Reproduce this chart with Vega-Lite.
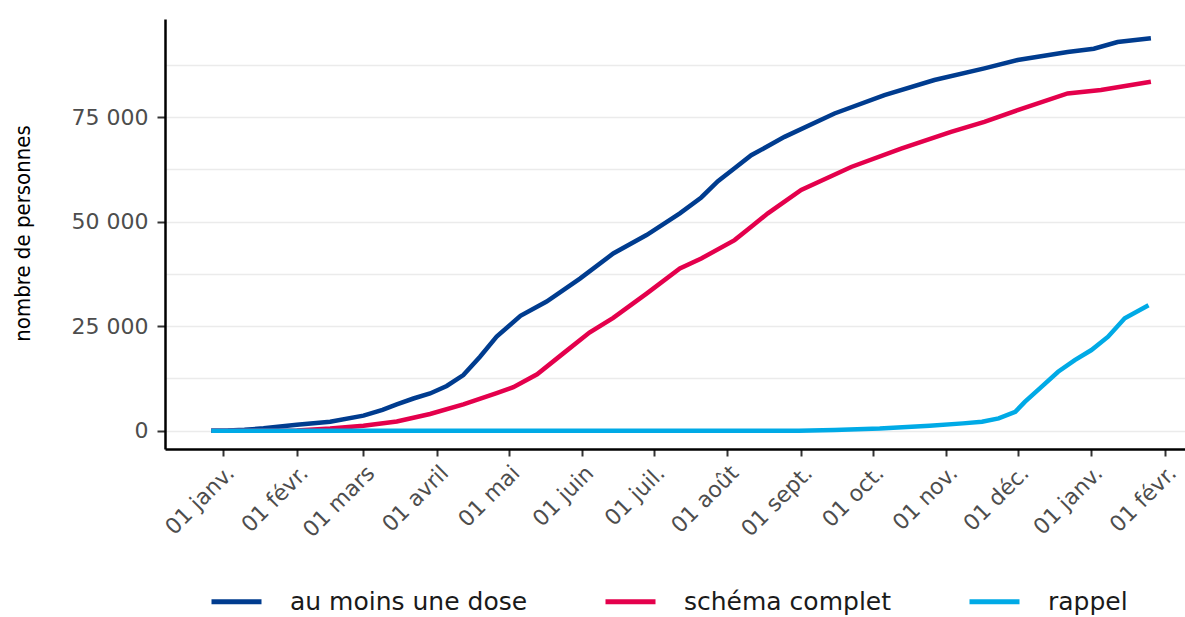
{
  "$schema": "https://vega.github.io/schema/vega-lite/v6.json",
  "autosize": {"type": "none"},
  "width": 1020,
  "height": 430,
  "padding": {"left": 165, "top": 19, "right": 0, "bottom": 168},
  "background": "white",
  "config": {"view": {"stroke": null}},
  "data": {
    "values": [
      {"date": "2020-12-27", "value": 0, "serie": "au moins une dose"},
      {"date": "2021-01-03", "value": 50, "serie": "au moins une dose"},
      {"date": "2021-01-10", "value": 200, "serie": "au moins une dose"},
      {"date": "2021-01-18", "value": 570, "serie": "au moins une dose"},
      {"date": "2021-02-01", "value": 1400, "serie": "au moins une dose"},
      {"date": "2021-02-15", "value": 2150, "serie": "au moins une dose"},
      {"date": "2021-03-01", "value": 3600, "serie": "au moins une dose"},
      {"date": "2021-03-09", "value": 5000, "serie": "au moins une dose"},
      {"date": "2021-03-15", "value": 6300, "serie": "au moins une dose"},
      {"date": "2021-03-22", "value": 7700, "serie": "au moins une dose"},
      {"date": "2021-03-29", "value": 8900, "serie": "au moins une dose"},
      {"date": "2021-04-05", "value": 10700, "serie": "au moins une dose"},
      {"date": "2021-04-12", "value": 13300, "serie": "au moins une dose"},
      {"date": "2021-04-19", "value": 17700, "serie": "au moins une dose"},
      {"date": "2021-04-26", "value": 22500, "serie": "au moins une dose"},
      {"date": "2021-05-06", "value": 27500, "serie": "au moins une dose"},
      {"date": "2021-05-17", "value": 30900, "serie": "au moins une dose"},
      {"date": "2021-05-31", "value": 36400, "serie": "au moins une dose"},
      {"date": "2021-06-14", "value": 42400, "serie": "au moins une dose"},
      {"date": "2021-06-28", "value": 46800, "serie": "au moins une dose"},
      {"date": "2021-07-12", "value": 52000, "serie": "au moins une dose"},
      {"date": "2021-07-21", "value": 55800, "serie": "au moins une dose"},
      {"date": "2021-07-28", "value": 59700, "serie": "au moins une dose"},
      {"date": "2021-08-04", "value": 62800, "serie": "au moins une dose"},
      {"date": "2021-08-11", "value": 65900, "serie": "au moins une dose"},
      {"date": "2021-08-25", "value": 70300, "serie": "au moins une dose"},
      {"date": "2021-09-15", "value": 75900, "serie": "au moins une dose"},
      {"date": "2021-10-06", "value": 80300, "serie": "au moins une dose"},
      {"date": "2021-10-27", "value": 83900, "serie": "au moins une dose"},
      {"date": "2021-11-17", "value": 86700, "serie": "au moins une dose"},
      {"date": "2021-12-01", "value": 88700, "serie": "au moins une dose"},
      {"date": "2021-12-22", "value": 90600, "serie": "au moins une dose"},
      {"date": "2022-01-02", "value": 91400, "serie": "au moins une dose"},
      {"date": "2022-01-12", "value": 93000, "serie": "au moins une dose"},
      {"date": "2022-01-26", "value": 93900, "serie": "au moins une dose"},

      {"date": "2020-12-27", "value": 0, "serie": "schéma complet"},
      {"date": "2021-01-18", "value": 0, "serie": "schéma complet"},
      {"date": "2021-02-01", "value": 50, "serie": "schéma complet"},
      {"date": "2021-02-15", "value": 500, "serie": "schéma complet"},
      {"date": "2021-03-01", "value": 1200, "serie": "schéma complet"},
      {"date": "2021-03-15", "value": 2200, "serie": "schéma complet"},
      {"date": "2021-03-29", "value": 4000, "serie": "schéma complet"},
      {"date": "2021-04-12", "value": 6300, "serie": "schéma complet"},
      {"date": "2021-04-26", "value": 9000, "serie": "schéma complet"},
      {"date": "2021-05-03", "value": 10400, "serie": "schéma complet"},
      {"date": "2021-05-13", "value": 13500, "serie": "schéma complet"},
      {"date": "2021-05-24", "value": 18500, "serie": "schéma complet"},
      {"date": "2021-06-04", "value": 23500, "serie": "schéma complet"},
      {"date": "2021-06-14", "value": 27000, "serie": "schéma complet"},
      {"date": "2021-06-28", "value": 32800, "serie": "schéma complet"},
      {"date": "2021-07-12", "value": 38800, "serie": "schéma complet"},
      {"date": "2021-07-21", "value": 41200, "serie": "schéma complet"},
      {"date": "2021-08-04", "value": 45600, "serie": "schéma complet"},
      {"date": "2021-08-11", "value": 48800, "serie": "schéma complet"},
      {"date": "2021-08-18", "value": 52000, "serie": "schéma complet"},
      {"date": "2021-09-01", "value": 57600, "serie": "schéma complet"},
      {"date": "2021-09-22", "value": 63100, "serie": "schéma complet"},
      {"date": "2021-10-13", "value": 67500, "serie": "schéma complet"},
      {"date": "2021-11-03", "value": 71500, "serie": "schéma complet"},
      {"date": "2021-11-17", "value": 73900, "serie": "schéma complet"},
      {"date": "2021-12-01", "value": 76700, "serie": "schéma complet"},
      {"date": "2021-12-22", "value": 80700, "serie": "schéma complet"},
      {"date": "2022-01-05", "value": 81500, "serie": "schéma complet"},
      {"date": "2022-01-26", "value": 83500, "serie": "schéma complet"},

      {"date": "2020-12-27", "value": 0, "serie": "rappel"},
      {"date": "2021-08-31", "value": 0, "serie": "rappel"},
      {"date": "2021-09-15", "value": 150, "serie": "rappel"},
      {"date": "2021-10-04", "value": 500, "serie": "rappel"},
      {"date": "2021-10-25", "value": 1200, "serie": "rappel"},
      {"date": "2021-11-08", "value": 1750, "serie": "rappel"},
      {"date": "2021-11-16", "value": 2150, "serie": "rappel"},
      {"date": "2021-11-23", "value": 2950, "serie": "rappel"},
      {"date": "2021-11-30", "value": 4500, "serie": "rappel"},
      {"date": "2021-12-04", "value": 6900, "serie": "rappel"},
      {"date": "2021-12-11", "value": 10500, "serie": "rappel"},
      {"date": "2021-12-18", "value": 14100, "serie": "rappel"},
      {"date": "2021-12-25", "value": 16900, "serie": "rappel"},
      {"date": "2022-01-01", "value": 19300, "serie": "rappel"},
      {"date": "2022-01-08", "value": 22500, "serie": "rappel"},
      {"date": "2022-01-15", "value": 26900, "serie": "rappel"},
      {"date": "2022-01-25", "value": 30000, "serie": "rappel"}
    ]
  },
  "mark": {"type": "line", "strokeWidth": 4.5},
  "encoding": {
    "x": {
      "field": "date",
      "type": "temporal",
      "scale": {
        "type": "utc",
        "domain": [
          {"year": 2020, "month": 12, "date": 7, "hours": 14, "utc": true},
          {"year": 2022, "month": 2, "date": 9, "hours": 8, "utc": true}
        ]
      },
      "axis": {
        "values": [
          {"year": 2021, "month": 1, "date": 1, "utc": true},
          {"year": 2021, "month": 2, "date": 1, "utc": true},
          {"year": 2021, "month": 3, "date": 1, "utc": true},
          {"year": 2021, "month": 4, "date": 1, "utc": true},
          {"year": 2021, "month": 5, "date": 1, "utc": true},
          {"year": 2021, "month": 6, "date": 1, "utc": true},
          {"year": 2021, "month": 7, "date": 1, "utc": true},
          {"year": 2021, "month": 8, "date": 1, "utc": true},
          {"year": 2021, "month": 9, "date": 1, "utc": true},
          {"year": 2021, "month": 10, "date": 1, "utc": true},
          {"year": 2021, "month": 11, "date": 1, "utc": true},
          {"year": 2021, "month": 12, "date": 1, "utc": true},
          {"year": 2022, "month": 1, "date": 1, "utc": true},
          {"year": 2022, "month": 2, "date": 1, "utc": true}
        ],
        "labelExpr": "'01 ' + ['janv.','févr.','mars','avril','mai','juin','juil.','août','sept.','oct.','nov.','déc.'][utcmonth(datum.value)]",
        "labelAngle": -45,
        "labelAlign": "right",
        "labelBaseline": "top",
        "labelFont": "DejaVu Sans",
        "labelFontSize": 22,
        "labelColor": "#4d4d4d",
        "labelPadding": 6,
        "labelOverlap": false,
        "labelFlush": false,
        "labelBound": false,
        "tickSize": 7,
        "tickWidth": 2,
        "tickColor": "#333333",
        "domainColor": "#000000",
        "domainWidth": 2.5,
        "grid": false,
        "title": null
      }
    },
    "y": {
      "field": "value",
      "type": "quantitative",
      "scale": {"domain": [-4380, 98500], "nice": false, "zero": false},
      "axis": {
        "values": [0, 12500, 25000, 37500, 50000, 62500, 75000, 87500],
        "labelExpr": "datum.value % 25000 === 0 ? replace(format(datum.value, ','), ',', ' ') : ''",
        "tickOpacity": {"condition": {"test": "datum.value % 25000 !== 0", "value": 0}, "value": 1},
        "labelFont": "DejaVu Sans",
        "labelFontSize": 22,
        "labelColor": "#4d4d4d",
        "labelPadding": 9,
        "tickSize": 8,
        "tickWidth": 2,
        "tickColor": "#333333",
        "domainColor": "#000000",
        "domainWidth": 2.5,
        "grid": true,
        "gridColor": "#ebebeb",
        "gridWidth": 1.6,
        "title": "nombre de personnes",
        "titleFont": "Liberation Sans Narrow, DejaVu Sans Condensed, sans-serif",
        "titleFontSize": 22,
        "titleFontWeight": "normal",
        "titleColor": "#000000",
        "titleX": -143,
        "titleY": 214,
        "titleAngle": -90,
        "titleAlign": "center",
        "titleBaseline": "middle"
      }
    },
    "color": {
      "field": "serie",
      "type": "nominal",
      "scale": {
        "domain": ["au moins une dose", "schéma complet", "rappel"],
        "range": ["#003c8f", "#e4004c", "#00aae6"]
      },
      "legend": {
        "title": null,
        "orient": "none",
        "direction": "horizontal",
        "legendX": 44,
        "legendY": 555,
        "symbolType": "stroke",
        "symbolSize": 2500,
        "symbolStrokeWidth": 5,
        "labelFont": "DejaVu Sans",
        "labelFontSize": 25,
        "labelColor": "#1a1a1a",
        "labelOffset": 26,
        "columnPadding": 67,
        "labelLimit": 400
      }
    }
  }
}
